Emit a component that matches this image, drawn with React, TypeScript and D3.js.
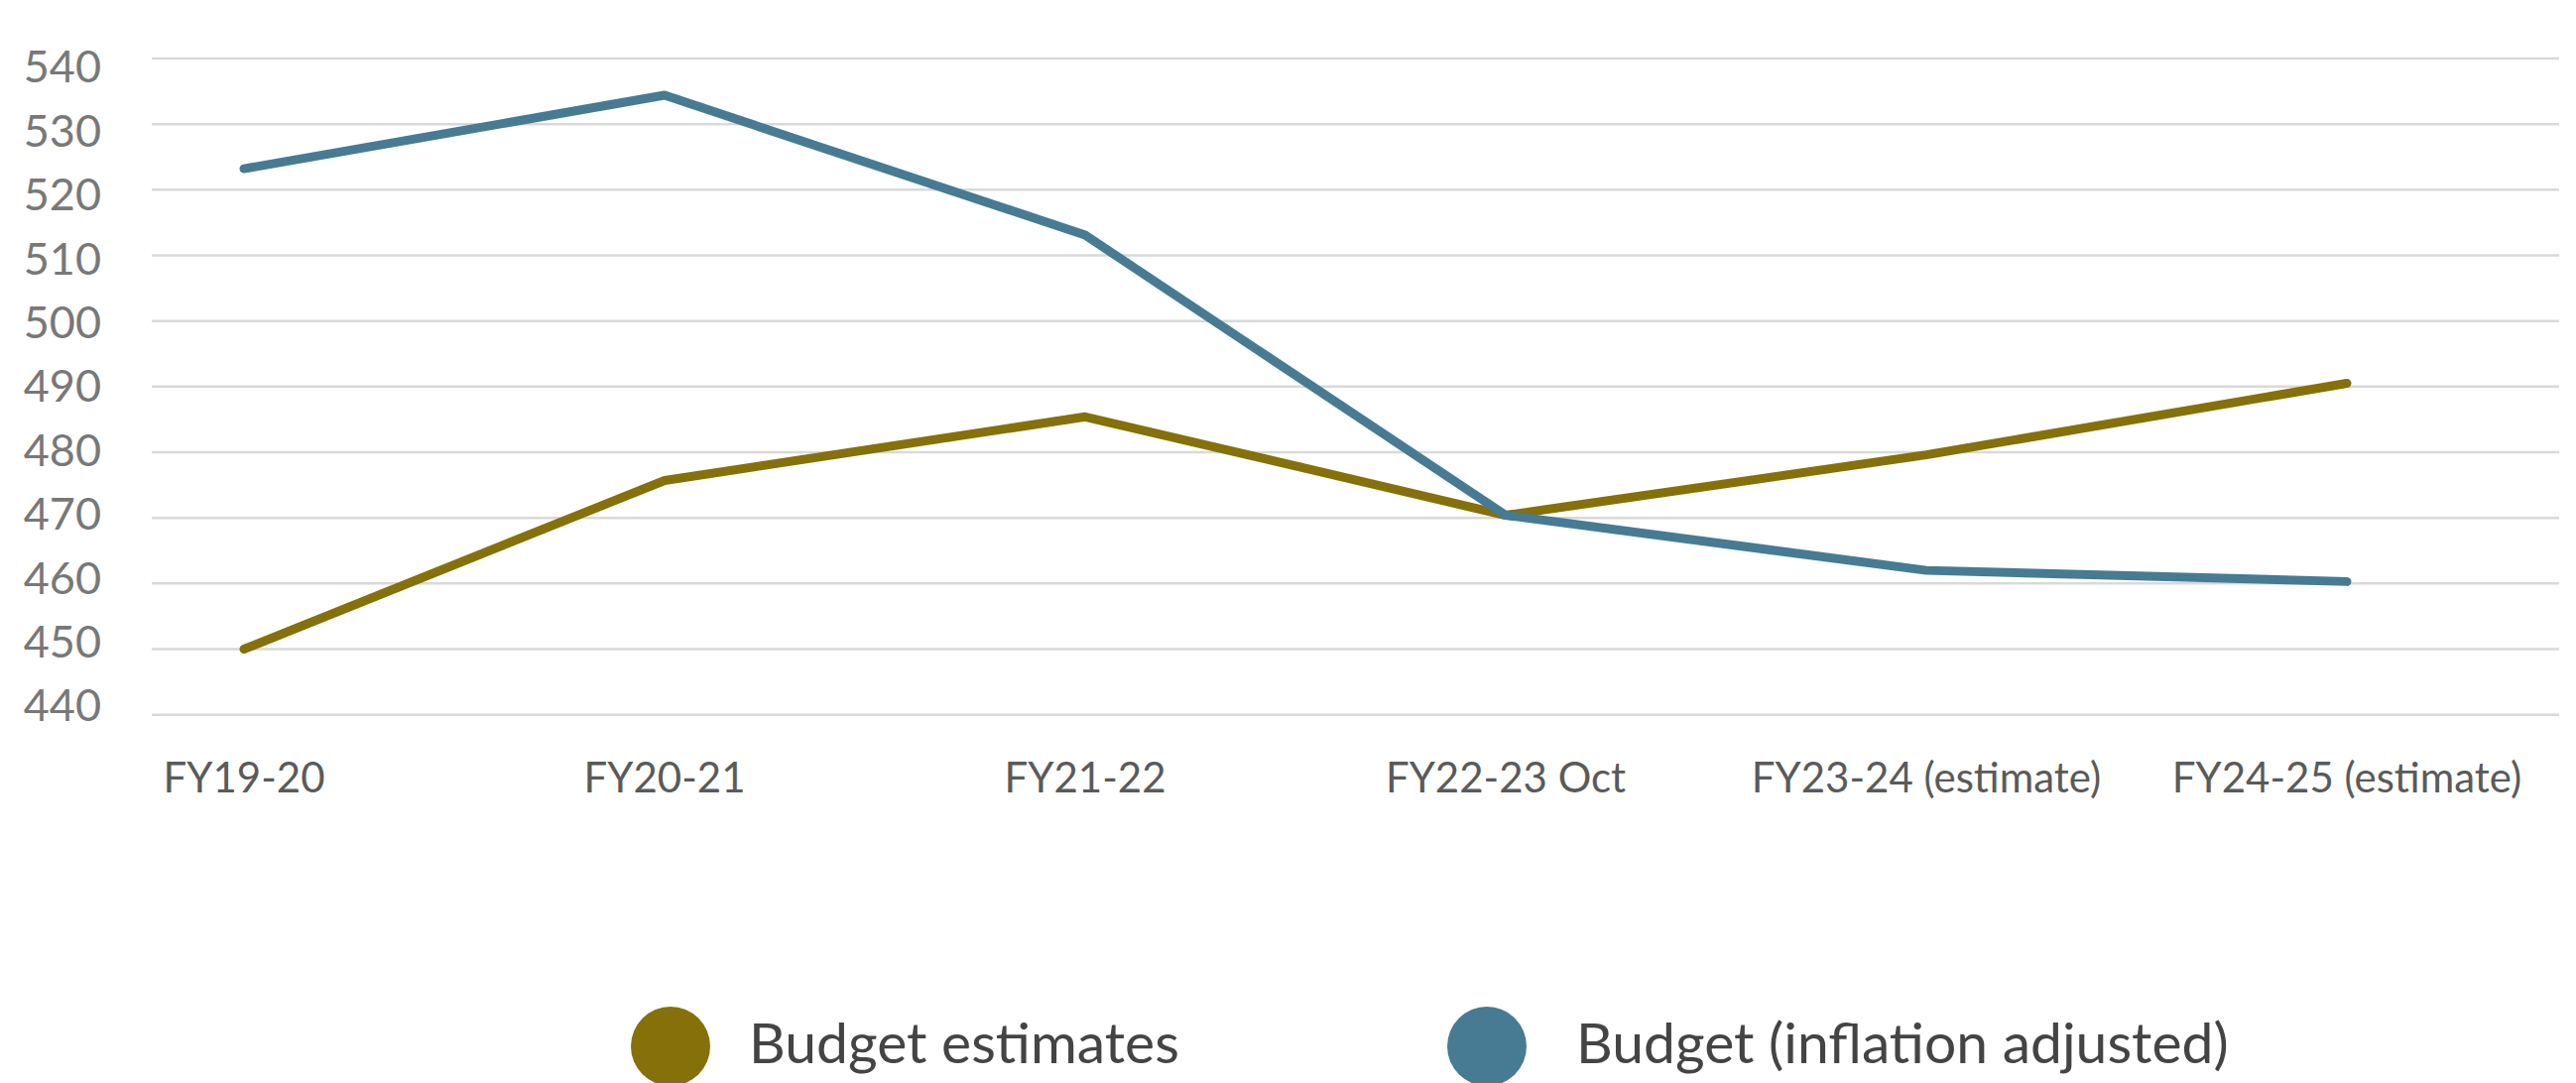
import React from "react";
import * as d3 from "d3";

const categories = [
  "FY19-20",
  "FY20-21",
  "FY21-22",
  "FY22-23 Oct",
  "FY23-24 (estimate)",
  "FY24-25 (estimate)",
];
const budgetEstimates = [450.0, 475.7, 485.4, 470.4, 479.6, 490.5];
const budgetInflationAdjusted = [523.2, 534.4, 513.1, 470.4, 462.0, 460.3];
const yTicks = [440, 450, 460, 470, 480, 490, 500, 510, 520, 530, 540];
const seriesNames = ["Budget estimates", "Budget (inflation adjusted)"];
const seriesColors = ["#85700A", "#467B93"];

const W = 2597;
const H = 1092;
const FONT = "Lato, 'Open Sans', sans-serif";

export default function App() {
  const x = d3.scalePoint<string>().domain(categories).range([246, 2366]);
  const y = d3.scaleLinear().domain([440, 540]).range([720.7, 59]);
  // tick labels sit on a slightly different spacing than the gridlines in the original
  const yLabel = d3.scaleLinear().domain([440, 540]).range([727.3, 83.3]);

  const line = d3
    .line<number>()
    .x((_, i) => x(categories[i]) as number)
    .y((d) => y(d));

  const series = [budgetEstimates, budgetInflationAdjusted];
  const legendCircleX = [676, 1499];
  const legendTextX = [755, 1589];

  return (
    <svg
      width={W}
      height={H}
      style={{ position: "absolute", left: 0, top: 0, background: "#fff" }}
      fontFamily={FONT}
    >
      <rect x={0} y={0} width={W} height={H} fill="#fff" />
      {yTicks.map((t) => (
        <g key={t}>
          <line x1={153} x2={2580} y1={y(t)} y2={y(t)} stroke="#d9d9d9" strokeWidth={2.5} />
          <text x={102} y={yLabel(t)} textAnchor="end" fontSize={45} fill="#787878">
            {t}
          </text>
        </g>
      ))}
      {categories.map((c) => (
        <text key={c} x={x(c)} y={799} textAnchor="middle" fontSize={42} fill="#5a5a5a">
          {c}
        </text>
      ))}
      {series.map((s, i) => (
        <path
          key={i}
          d={line(s) || ""}
          fill="none"
          stroke={seriesColors[i]}
          strokeWidth={9}
          strokeLinecap="round"
          strokeLinejoin="round"
        />
      ))}
      {seriesNames.map((n, i) => (
        <g key={n}>
          <circle cx={legendCircleX[i]} cy={1055} r={40} fill={seriesColors[i]} />
          <text x={legendTextX[i]} y={1071.5} fontSize={57} fill="#444444">
            {n}
          </text>
        </g>
      ))}
    </svg>
  );
}
